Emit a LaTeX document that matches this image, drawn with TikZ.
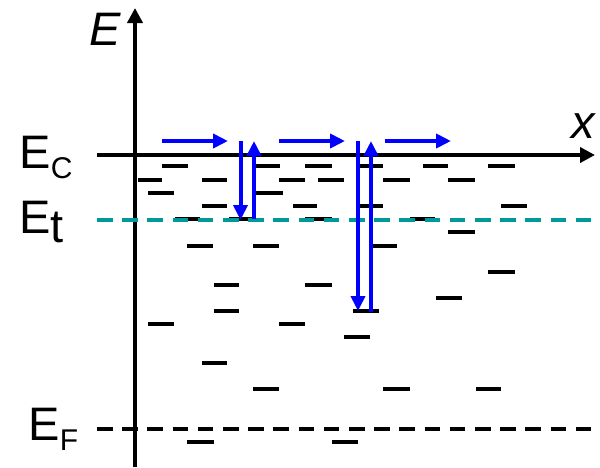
\documentclass[tikz,border=0pt]{standalone}
\usepackage{fontspec}
\setmainfont{Liberation Sans}
\usetikzlibrary{arrows.meta}
\definecolor{trapteal}{RGB}{0,153,153}
\definecolor{carrierblue}{RGB}{0,0,255}
\newcommand\subsize{\fontsize{30}{30}\selectfont}
\begin{document}
\begin{tikzpicture}[x=1pt,y=-1pt,
  axis/.style={line width=4pt,-{Triangle[length=15pt,width=15pt]}},
  level/.style={line width=4.5pt},
  refline/.style={line width=4.5pt,dash pattern=on 15.5pt off 9.7pt},
  hop/.style={carrierblue,line width=4pt,-{Triangle[length=15pt,width=14pt]}},
  biglabel/.style={inner sep=0pt,anchor=base west,font=\fontsize{47}{47}\selectfont},
]
\useasboundingbox (0,0) rectangle (600,467);

% localized states (short energy levels)
\foreach \y/\list in {
  166/{162/188,255/280,305/332,358/383,423/448,488/515},
  180/{138/162,202/227,279/305,318/344,383/410,448/475},
  193/{148/174,256/283},
  206/{202/227,293/317,358/383,501/527},
  219/{175/200,229/254,305/332,410/435},
  232/{448/475},
  246/{187/213,253/279,371/397},
  272/{488/515},
  285/{214/239,305/332},
  298/{436/462},
  311/{214/239,353/379},
  324/{148/174,279/305},
  337/{344/370},
  363/{202/227},
  389/{253/279,383/410,476/501},
  442/{187/214,332/358}}{
  \foreach \a/\b in \list {\draw[level] (\a,\y) -- (\b,\y);}
}

% axes
\coordinate (Ebot) at (135,467);
\coordinate (Etop) at (135,8);
\coordinate (xleft) at (97,155);
\coordinate (xright) at (595,155);
\draw[axis] (Ebot) -- (Etop);
\draw[axis] (xleft) -- (xright);

% trap level and Fermi level
\coordinate (tL) at (97,220);
\coordinate (tR) at (592,220);
\coordinate (fL) at (97,429);
\coordinate (fR) at (592,429);
\draw[refline,trapteal] (tL) -- (tR);
\draw[refline,black] (fL) -- (fR);

% carrier transport and trapping/release
\coordinate (h1a) at (162,141); \coordinate (h1b) at (228,141);
\coordinate (h2a) at (279,141); \coordinate (h2b) at (345,141);
\coordinate (h3a) at (385,141); \coordinate (h3b) at (451,141);
\draw[hop] (h1a) -- (h1b);
\draw[hop] (h2a) -- (h2b);
\draw[hop] (h3a) -- (h3b);
\coordinate (d1a) at (240.5,141); \coordinate (d1b) at (240.5,220);
\coordinate (u1a) at (254,219);   \coordinate (u1b) at (254,141);
\coordinate (d2a) at (358,141);   \coordinate (d2b) at (358,311);
\coordinate (u2a) at (371,312);   \coordinate (u2b) at (371,141);
\draw[hop] (d1a) -- (d1b);
\draw[hop] (u1a) -- (u1b);
\draw[hop] (d2a) -- (d2b);
\draw[hop] (u2a) -- (u2b);

% labels
\node[biglabel] (Elab) at (89,45) {\itshape E};
\node[biglabel] (xlab) at (571,138) {\itshape x};
\node[biglabel] (EC) at (19.4,168) {E\raisebox{-10pt}{\subsize C}};
\node[biglabel] (Et) at (19.4,233) {E\raisebox{-9pt}{t}};
\node[biglabel] (EF) at (28.4,440) {E\raisebox{-10pt}{\subsize F}};
\end{tikzpicture}
\end{document}
